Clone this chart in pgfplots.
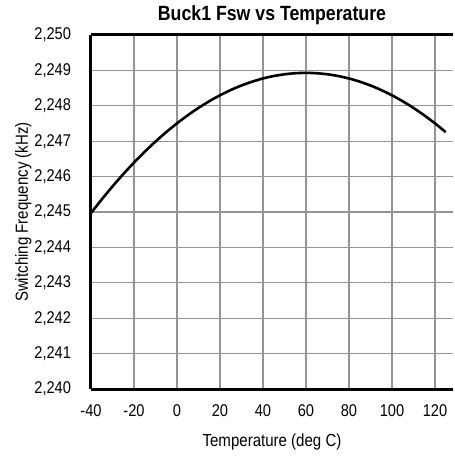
\documentclass[border=0pt]{standalone}
\usepackage{fontspec}
\setmainfont{Liberation Sans}[FakeStretch=0.86]
\usepackage{pgfplots}
\pgfplotsset{compat=1.18}
\begin{document}
\begin{tikzpicture}
\begin{axis}[
  scale only axis,
  width=362pt, height=354pt,
  xmin=-40, xmax=128.4,
  ymin=2240, ymax=2250,
  xtick={-40,-20,...,120},
  ytick={2240,2241,...,2250},
  grid=major,
  major grid style={draw=black!42, line width=1.3pt},
  major tick length=0pt,
  axis x line*=box, axis y line*=left,
  x axis line style={line width=3pt, black},
  y axis line style={line width=3pt, black},
  /pgf/number format/assume math mode=true,
  /pgf/number format/1000 sep={,},
  y tick label style={/pgf/number format/fixed, font=\fontsize{17}{19}\selectfont, xshift=-16.5pt},
  x tick label style={font=\fontsize{17}{19}\selectfont, yshift=-12pt},
  title={\textbf{Buck1 Fsw vs Temperature}},
  title style={font=\fontsize{20.6}{22}\selectfont, yshift=1pt},
  xlabel={Temperature (deg C)},
  ylabel={Switching Frequency (kHz)},
  label style={font=\fontsize{17.5}{19}\selectfont},
  xlabel style={yshift=-10pt},
  ylabel style={yshift=-4pt},
]
\addplot[black, line width=2.6pt, smooth] coordinates {
(-40,2244.97) (-35,2245.356) (-30,2245.722) (-25,2246.069) (-20,2246.396)
(-15,2246.702) (-10,2246.990) (-5,2247.257) (0,2247.504) (5,2247.732)
(10,2247.940) (15,2248.128) (20,2248.296) (25,2248.445) (30,2248.574)
(35,2248.682) (40,2248.772) (45,2248.841) (50,2248.890) (55,2248.920)
(60,2248.930) (65,2248.920) (70,2248.890) (75,2248.841) (80,2248.772)
(85,2248.682) (90,2248.574) (95,2248.445) (100,2248.296) (105,2248.128)
(110,2247.940) (115,2247.732) (120,2247.504) (125,2247.257)
};
\end{axis}
\path (current axis.south west) ++(-91pt,-68pt);
\path (current axis.north east) ++(0pt,35pt);
\end{tikzpicture}
\end{document}
